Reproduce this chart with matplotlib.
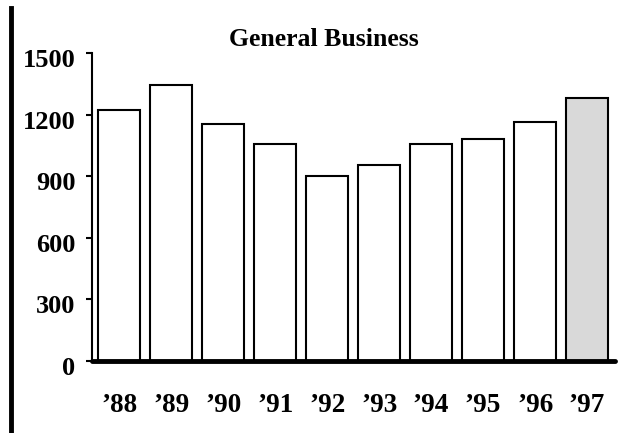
import matplotlib
matplotlib.use("Agg")
import matplotlib.pyplot as plt
from matplotlib.lines import Line2D
import matplotlib.transforms as mtransforms

years = ["'88", "'89", "'90", "'91", "'92", "'93", "'94", "'95", "'96", "'97"]
values = [1222, 1344, 1154, 1057, 901, 955, 1057, 1081, 1164, 1281]
colors = ["white"] * 9 + ["#d9d9d9"]
yticks = [0, 300, 600, 900, 1200, 1500]

plt.rcParams['font.family'] = ['Liberation Serif', 'DejaVu Serif']
plt.rcParams['font.weight'] = 'bold'

fig = plt.figure(figsize=(6.28, 4.33), dpi=100)
ax = fig.add_axes([92/628, 1 - 361/433, 523/628, 308/433])

x = list(range(len(years)))
ax.bar(x, values, width=0.81, color=colors, edgecolor='black', linewidth=1.5, zorder=2)

ax.set_xlim(-0.52, 9.54)
ax.set_ylim(0, 1500)
ax.set_yticks(yticks)
ax.set_yticklabels([str(v) for v in yticks], fontsize=19, fontweight='bold')
ax.set_xticks(x)
ax.set_xticklabels([y.replace("'", "\u2019") for y in years], fontsize=19.5, fontweight='bold')
ax.tick_params(axis='x', length=0, pad=23)
ax.tick_params(axis='y', length=4, width=1.5, pad=8)

offset = mtransforms.ScaledTranslation(0, -5/100, fig.dpi_scale_trans)
for lab in ax.get_yticklabels():
    lab.set_transform(lab.get_transform() + offset)

for s in ['top', 'right']:
    ax.spines[s].set_visible(False)
ax.spines['left'].set_linewidth(1.5)
ax.spines['bottom'].set_visible(False)
ax.axhline(0, color='black', linewidth=3.5, solid_capstyle='round', zorder=3, clip_on=False)

fig.text(324/628, 1 - 39/433, "General Business", ha='center', va='center',
         fontsize=18.5, fontweight='bold')

fig.add_artist(Line2D([11/628, 11/628], [0, 1 - 8/433], color='black', linewidth=3.5))

fig.savefig("out.png", dpi=100)
